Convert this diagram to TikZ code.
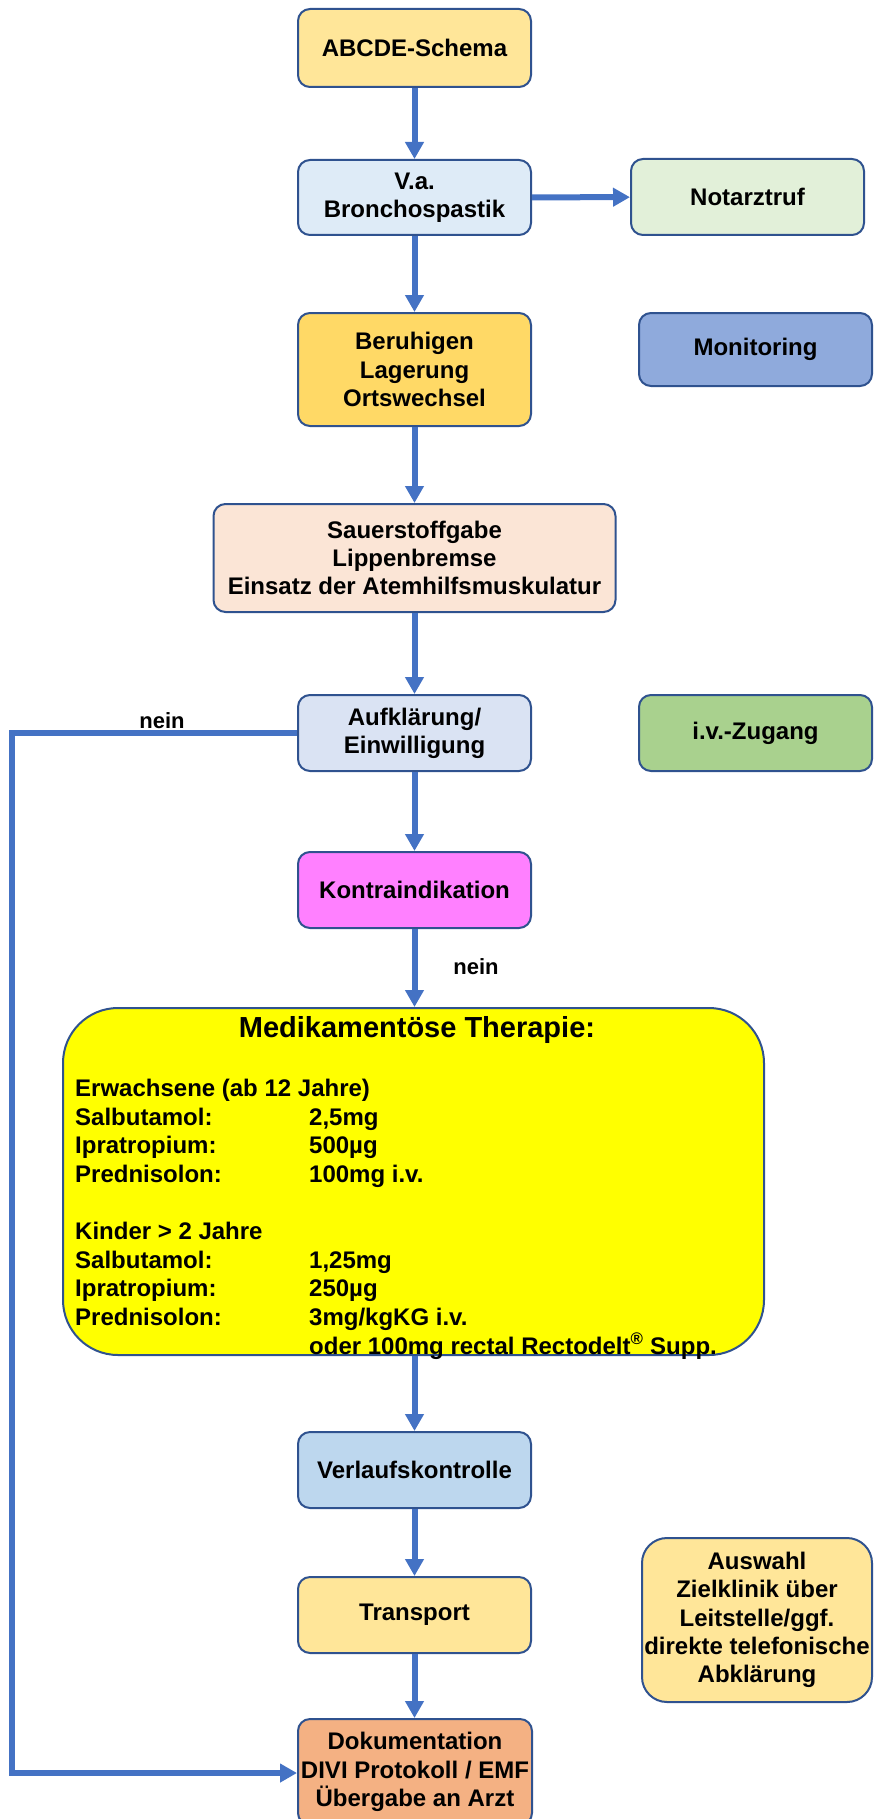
\documentclass[tikz,border=0pt]{standalone}
\usepackage{fontspec}
\setmainfont{Liberation Sans}
\usetikzlibrary{arrows.meta}
\definecolor{bord}{HTML}{2F528F}
\definecolor{arr}{HTML}{4472C4}
\definecolor{cgold}{HTML}{FFE699}
\definecolor{cgoldd}{HTML}{FFD966}
\definecolor{cblue}{HTML}{DEEBF7}
\definecolor{cblueb}{HTML}{DAE3F3}
\definecolor{cbluem}{HTML}{8FAADC}
\definecolor{cbluev}{HTML}{BDD7EE}
\definecolor{cgreenl}{HTML}{E2F0D9}
\definecolor{cgreen}{HTML}{A9D18E}
\definecolor{cpeach}{HTML}{FBE5D6}
\definecolor{cpink}{HTML}{FF80FF}
\definecolor{cyell}{HTML}{FFFF00}
\definecolor{corange}{HTML}{F4B183}
\begin{document}
\begin{tikzpicture}[x=1pt,y=-1pt,
  box/.style={draw=bord,line width=2pt,rounded corners=12pt,align=center,inner sep=2pt,
    font=\fontsize{24}{28.3}\selectfont\bfseries},
  flow/.style={draw=arr,line width=6pt,-{Triangle[width=18pt,length=17pt]}},
  lab/.style={font=\fontsize{22}{26}\selectfont\bfseries}]
\useasboundingbox (0,0) rectangle (874,1819);
\node[box,fill=cgold,minimum width=233,minimum height=78] (abcde) at (414.5,48) {ABCDE-Schema};
\node[box,fill=cblue,minimum width=233,minimum height=75] (va) at (414.5,197.5) {V.a.\\Bronchospastik};
\node[box,fill=cgreenl,minimum width=233,minimum height=76] (notarzt) at (747.5,197) {Notarztruf};
\node[box,fill=cgoldd,minimum width=233,minimum height=113] (ber) at (414.5,369.5) {Beruhigen\\Lagerung\\Ortswechsel};
\node[box,fill=cbluem,minimum width=233,minimum height=73] (mon) at (755.5,349.5) {Monitoring};
\node[box,fill=cpeach,minimum width=402,minimum height=108] (sauer) at (414.5,558) {Sauerstoffgabe\\Lippenbremse\\Einsatz der Atemhilfsmuskulatur};
\node[box,fill=cblueb,minimum width=233,minimum height=76] (aufkl) at (414.5,733) {Aufklärung/\\Einwilligung};
\node[box,fill=cgreen,minimum width=233,minimum height=76] (ivz) at (755.5,733) {i.v.-Zugang};
\node[box,fill=cpink,minimum width=233,minimum height=76] (kontra) at (414.5,890) {Kontraindikation};
\node[box,fill=cyell,rounded corners=55pt,minimum width=701,minimum height=347] (med) at (413.5,1181.5) {};
\node[font=\fontsize{29}{34}\selectfont\bfseries] (medtitle) at (417,1030) {Medikamentöse Therapie:};
\node[anchor=north west,align=left,inner sep=0,font=\fontsize{24}{28.6}\selectfont\bfseries] (medbody) at (75,1079)
 {Erwachsene (ab 12 Jahre)\\
  \makebox[234pt][l]{Salbutamol:}2,5mg\\
  \makebox[234pt][l]{Ipratropium:}500µg\\
  \makebox[234pt][l]{Prednisolon:}100mg i.v.\\[28.6pt]
  Kinder > 2 Jahre\\
  \makebox[234pt][l]{Salbutamol:}1,25mg\\
  \makebox[234pt][l]{Ipratropium:}250µg\\
  \makebox[234pt][l]{Prednisolon:}3mg/kgKG i.v.\\
  \makebox[234pt][l]{}oder 100mg rectal Rectodelt\textsuperscript{®} Supp.};
\node[box,fill=cbluev,minimum width=233,minimum height=76] (verl) at (414.5,1470) {Verlaufskontrolle};
\node[box,fill=cgold,minimum width=233,minimum height=76] (trans) at (414.5,1615) {Transport};
\node[box,fill=cgold,rounded corners=25pt,minimum width=230,minimum height=164] (ausw) at (757,1620) {Auswahl\\Zielklinik über\\Leitstelle/ggf.\\direkte telefonische\\Abklärung};
\node[box,fill=corange,minimum width=234,minimum height=106] (dok) at (415,1772) {Dokumentation\\DIVI Protokoll / EMF\\Übergabe an Arzt};
\node[lab] (nein1) at (162,721) {nein};
\node[lab] (nein2) at (476,967) {nein};
\draw[flow] (abcde) -- (va);
\draw[flow] (va) -- (notarzt);
\draw[flow] (va) -- (ber);
\draw[flow] (ber) -- (sauer);
\draw[flow] (sauer) -- (aufkl);
\draw[flow] (aufkl) -- (kontra);
\draw[flow] (kontra.south) -- (kontra.south |- med.north);
\draw[flow] (verl.north |- med.south) -- (verl.north);
\draw[flow] (verl) -- (trans);
\draw[flow] (trans.south) -- (trans.south |- dok.north);
\coordinate (ctop) at (12,733);
\coordinate (cbot) at (12,1773);
\draw[flow] (aufkl.west) -- (ctop) -- (cbot) -- (dok.west |- cbot);
\end{tikzpicture}
\end{document}
